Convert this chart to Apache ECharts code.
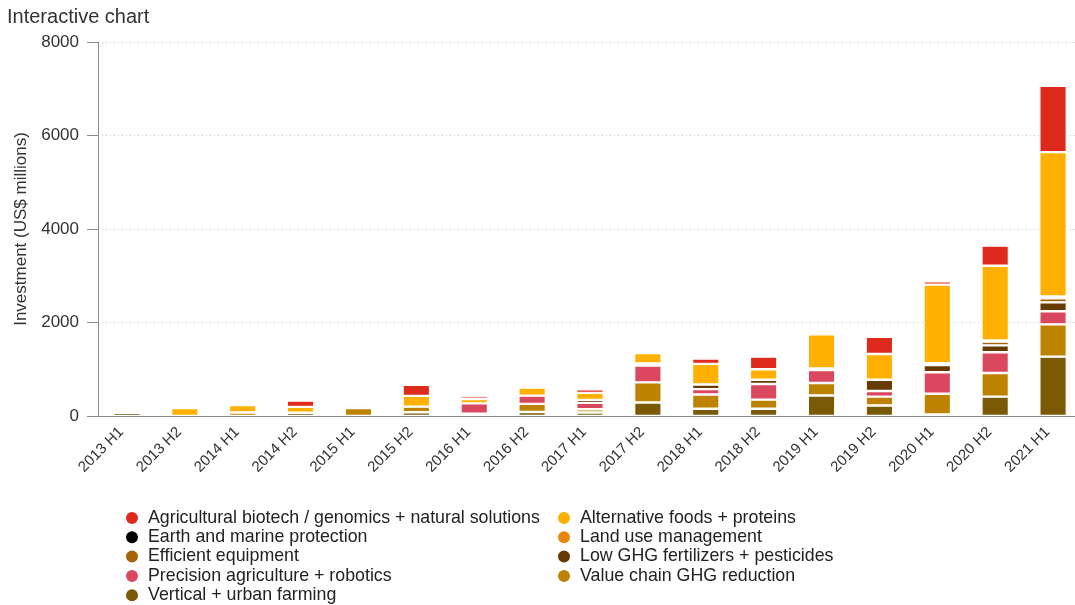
<!DOCTYPE html>
<html>
<head>
<meta charset="utf-8">
<script src="https://cdn.jsdelivr.net/npm/echarts@6/dist/echarts.min.js"></script>
<style>
  html, body { margin: 0; padding: 0; background: #fff; overflow: hidden; }
  #chart { width: 1090px; height: 605px; }
</style>
</head>
<body>
<div id="chart"></div>
<script>
// Half-year periods
const categories = ['2013 H1', '2013 H2', '2014 H1', '2014 H2', '2015 H1', '2015 H2', '2016 H1', '2016 H2',
  '2017 H1', '2017 H2', '2018 H1', '2018 H2', '2019 H1', '2019 H2', '2020 H1', '2020 H2', '2021 H1'];

// Investment by category, US$ millions (null = none)
const verticalUrbanFarming = [70, null, null, 70, null, 80, null, 85, 75, 290, 155, 155, 440, 225, 35, 415, 1270];
const valueChainGhg = [null, null, 75, null, 170, 120, 50, 175, 70, 430, 305, 195, 265, 190, 440, 505, 690];
const precisionAgriculture = [null, null, null, null, 40, null, 220, 175, 135, 360, 115, 335, 280, 120, 460, 445, 280];
const lowGhgFertilizers = [null, null, null, null, null, null, null, null, 65, 45, 100, 90, null, 240, 155, 145, 190];
const landUseManagement = [null, null, null, null, null, null, null, null, null, null, null, null, null, null, 20, null, null];
const efficientEquipment = [null, null, null, null, null, null, null, null, null, null, null, null, 30, null, null, 80, 90];
const earthMarineProtection = [null, null, null, null, null, null, null, null, null, null, null, null, null, null, 20, 25, 35];
const alternativeFoods = [null, 170, 160, 125, null, 230, 95, 175, 150, 220, 440, 225, 730, 550, 1680, 1600, 3090];
const agriculturalBiotech = [null, 35, 45, 135, null, 240, 60, 50, 75, null, 115, 270, null, 370, 70, 430, 1420];

const yTicks = [0, 2000, 4000, 6000, 8000];

// Stacked from the bottom up
const seriesDefs = [
  { name: 'Vertical + urban farming', data: verticalUrbanFarming, color: '#7a5a04' },
  { name: 'Value chain GHG reduction', data: valueChainGhg, color: '#bd8200' },
  { name: 'Precision agriculture + robotics', data: precisionAgriculture, color: '#d9485e' },
  { name: 'Low GHG fertilizers + pesticides', data: lowGhgFertilizers, color: '#663a00' },
  { name: 'Land use management', data: landUseManagement, color: '#e8870e' },
  { name: 'Efficient equipment', data: efficientEquipment, color: '#a8620a' },
  { name: 'Earth and marine protection', data: earthMarineProtection, color: '#000000' },
  { name: 'Alternative foods + proteins', data: alternativeFoods, color: '#ffb000' },
  { name: 'Agricultural biotech / genomics + natural solutions', data: agriculturalBiotech, color: '#de2a1c' }
];

const font = "'Liberation Sans', Arial, Helvetica, sans-serif";
const chart = echarts.init(document.getElementById('chart'), null, { renderer: 'canvas' });

const legendCommon = {
  orient: 'vertical',
  top: 509,
  height: 96,
  padding: 0,
  icon: 'circle',
  itemWidth: 14,
  itemHeight: 14,
  itemGap: 1.3,
  selectedMode: false,
  textStyle: { fontFamily: font, fontSize: 17.8, color: '#222', padding: [0, 0, 0, 4] }
};

chart.setOption({
  animation: false,
  color: seriesDefs.map(s => s.color),
  title: {
    text: 'Interactive chart',
    left: 7,
    top: 7,
    padding: 0,
    textStyle: { fontFamily: font, fontSize: 20, fontWeight: 'normal', color: '#333' }
  },
  legend: [
    Object.assign({}, legendCommon, {
      left: 124,
      data: ['Agricultural biotech / genomics + natural solutions', 'Earth and marine protection',
        'Efficient equipment', 'Precision agriculture + robotics', 'Vertical + urban farming']
    }),
    Object.assign({}, legendCommon, {
      left: 556,
      data: ['Alternative foods + proteins', 'Land use management',
        'Low GHG fertilizers + pesticides', 'Value chain GHG reduction']
    })
  ],
  grid: { left: 98, top: 42, width: 984, bottom: 189 },
  xAxis: {
    type: 'category',
    data: categories,
    axisLine: { lineStyle: { color: '#8c8c8c', width: 1 } },
    axisTick: { show: false },
    axisLabel: {
      rotate: 45, margin: 8, fontFamily: font, fontSize: 15, color: '#333', interval: 0,
      padding: [0, 8, 18, 0]
    }
  },
  yAxis: {
    type: 'value',
    min: yTicks[0],
    max: yTicks[yTicks.length - 1],
    interval: 2000,
    name: 'Investment (US$ millions)',
    nameLocation: 'middle',
    nameRotate: 90,
    nameGap: 58,
    nameTextStyle: { fontFamily: font, fontSize: 17, color: '#333' },
    axisLine: { show: true, lineStyle: { color: '#8c8c8c', width: 1 } },
    axisTick: { show: true, length: 11, lineStyle: { color: '#8c8c8c' } },
    axisLabel: { margin: 19, fontFamily: font, fontSize: 17, color: '#333', formatter: v => String(v) },
    splitLine: { show: true, lineStyle: { color: '#c8c8c8', type: [1, 3], width: 1 } }
  },
  series: seriesDefs.map(s => ({
    name: s.name,
    type: 'bar',
    stack: 'total',
    barWidth: 27.5,
    data: s.data,
    itemStyle: { color: s.color, borderColor: '#ffffff', borderWidth: 1.2 }
  }))
});
</script>
</body>
</html>
